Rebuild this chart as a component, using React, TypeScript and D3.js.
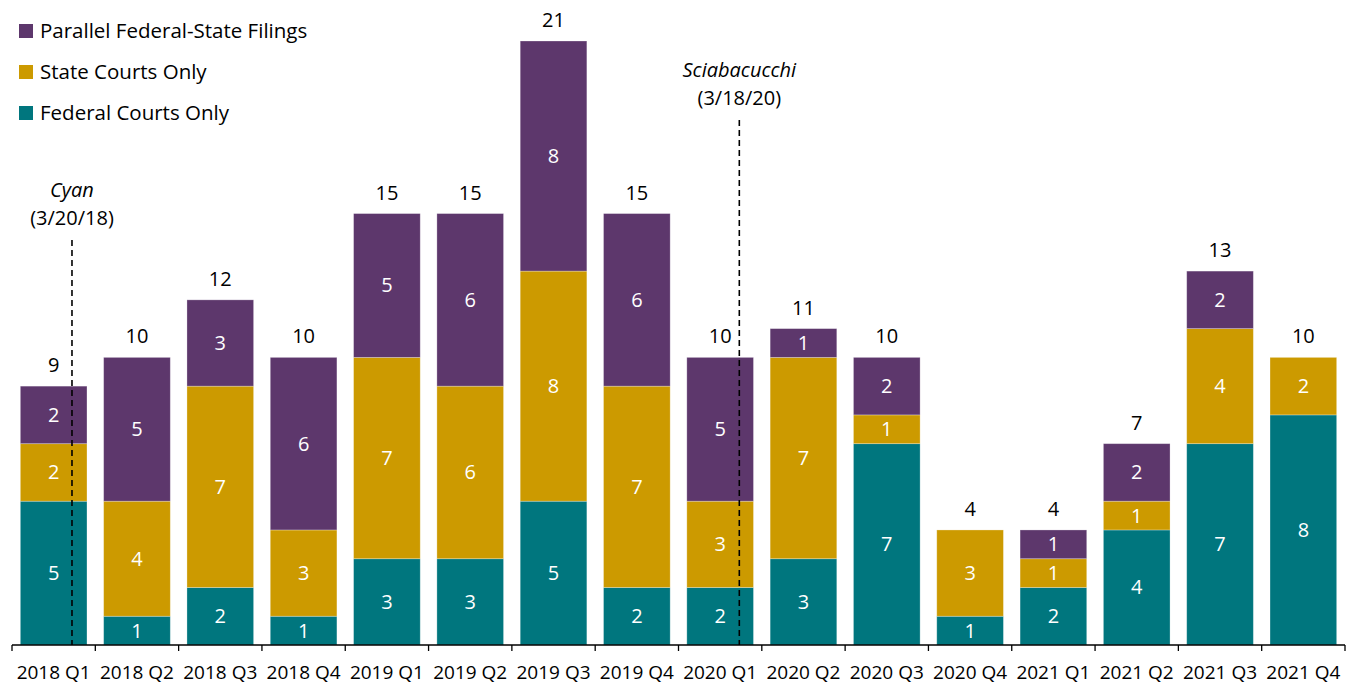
import React from "react";
import * as d3 from "d3";

const categories = ["2018 Q1","2018 Q2","2018 Q3","2018 Q4","2019 Q1","2019 Q2","2019 Q3","2019 Q4","2020 Q1","2020 Q2","2020 Q3","2020 Q4","2021 Q1","2021 Q2","2021 Q3","2021 Q4"];
const federalOnly = [5,1,2,1,3,3,5,2,2,3,7,1,2,4,7,8];
const stateOnly = [2,4,7,3,7,6,8,7,3,7,1,3,1,1,4,2];
const parallel = [2,5,3,6,5,6,8,6,5,1,2,0,1,2,2,0];
const seriesNames = ["Federal Courts Only","State Courts Only","Parallel Federal-State Filings"];
const seriesColors = ["#00767E","#CC9A00","#5D376C"];
const annotations = [
  { cat: "2018 Q1", frac: 0.72, name: "Cyan", date: "(3/20/18)" },
  { cat: "2020 Q1", frac: 0.73, name: "Sciabacucchi", date: "(3/18/20)" },
];

const W = 1351, H = 686;
const FONT = "'Open Sans', 'Noto Sans', sans-serif";

export default function App() {
  const x = d3.scaleBand<string>().domain(categories).range([12, 1345]).paddingInner(0.2).paddingOuter(0.1);
  const y = d3.scaleLinear().domain([0, 21]).range([645, 41]);
  const rows = categories.map((c, i) => ({ cat: c, f: federalOnly[i], s: stateOnly[i], p: parallel[i] }));
  const stack = d3.stack<any>().keys(["f", "s", "p"])(rows);
  const step = x.step();
  const start = (c: string) => (x(c) as number) - x.paddingInner() * step / 2;
  const legendOrder = [2, 1, 0];

  return (
    <svg width={W} height={H} style={{ position: "absolute", left: 0, top: 0, background: "#fff" }} fontFamily={FONT}>
      {stack.map((layer, li) => (
        <g key={li}>
          {layer.map((d, i) => {
            const v = d[1] - d[0];
            if (v <= 0) return null;
            const bx = x(categories[i]) as number;
            const y0 = y(d[0]), y1 = y(d[1]);
            return (
              <g key={i}>
                <rect x={bx} y={y1} width={x.bandwidth()} height={y0 - y1} fill={seriesColors[li]} stroke="#ffffff" strokeOpacity={0.35} strokeWidth={0.8} />
                <text x={bx + x.bandwidth() / 2} y={(y0 + y1) / 2} dy="0.35em" textAnchor="middle" fill="#fff" fontSize={20}>{v}</text>
              </g>
            );
          })}
        </g>
      ))}
      {rows.map((r, i) => {
        const t = r.f + r.s + r.p;
        return (
          <text key={i} x={(x(r.cat) as number) + x.bandwidth() / 2} y={y(t) - 14} textAnchor="middle" fontSize={20} fill="#000">{t}</text>
        );
      })}
      <line x1={12} x2={1345} y1={645} y2={645} stroke="#000" strokeWidth={1.3} />
      {categories.map((c, i) => (
        <line key={"t" + i} x1={start(c)} x2={start(c)} y1={645} y2={651} stroke="#000" strokeWidth={1.3} />
      ))}
      <line x1={1345} x2={1345} y1={645} y2={651} stroke="#000" strokeWidth={1.3} />
      {categories.map((c, i) => (
        <text key={"l" + i} x={(x(c) as number) + x.bandwidth() / 2} y={679} textAnchor="middle" fontSize={19} fill="#000">{c}</text>
      ))}
      {annotations.map((a, i) => {
        const ax = start(a.cat) + a.frac * step;
        const lineTop = i === 0 ? 240 : 120;
        return (
          <g key={"a" + i}>
            <line x1={ax} x2={ax} y1={lineTop} y2={645} stroke="#000" strokeWidth={1.6} strokeDasharray="6,4" />
            <text x={ax} y={lineTop - 43} textAnchor="middle" fontSize={20} fontStyle="italic">{a.name}</text>
            <text x={ax} y={lineTop - 15} textAnchor="middle" fontSize={20}>{a.date}</text>
          </g>
        );
      })}
      {legendOrder.map((si, k) => (
        <g key={"lg" + k} transform={`translate(19, ${24 + k * 41})`}>
          <rect x={0} y={0} width={14} height={14} fill={seriesColors[si]} />
          <text x={21} y={7} dy="0.36em" fontSize={20.5} fill="#000">{seriesNames[si]}</text>
        </g>
      ))}
    </svg>
  );
}
